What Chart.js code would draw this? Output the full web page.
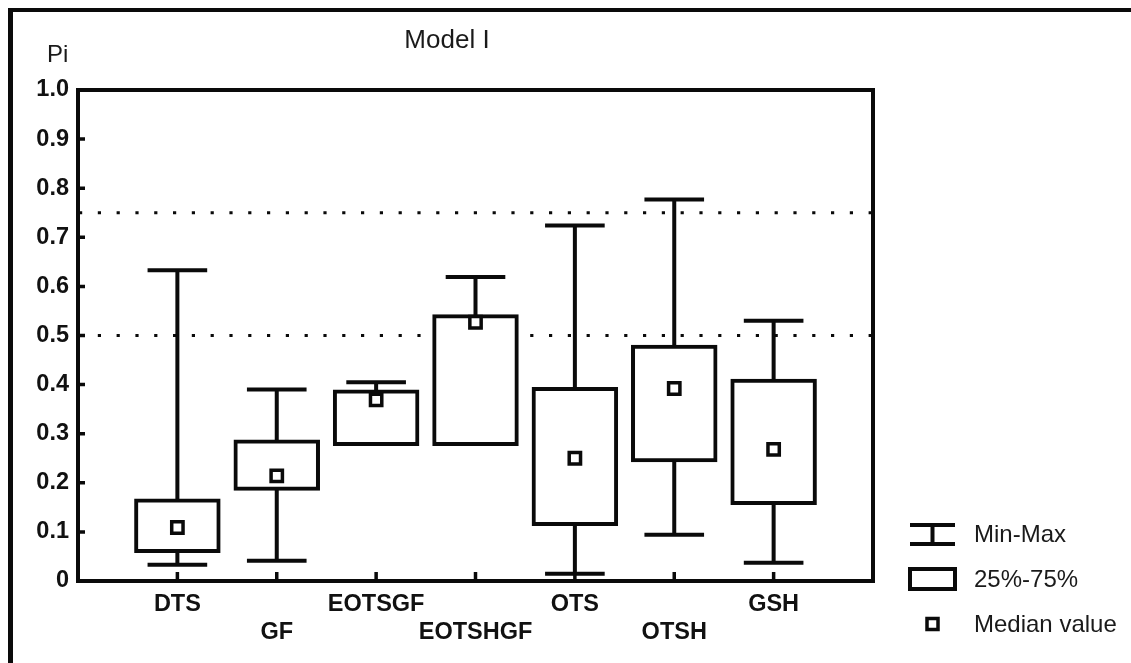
<!DOCTYPE html>
<html>
<head>
<meta charset="utf-8">
<title>Model I</title>
<script src="https://cdn.jsdelivr.net/npm/chart.js@4.4.1/dist/chart.umd.min.js"></script>
<style>
    html, body { margin: 0; padding: 0; background: #fff; }
    #wrap { width: 1131px; height: 663px; }
</style>
</head>
<body>
<div id="wrap"><canvas id="box-chart" width="1131" height="663"></canvas></div>
<script>
// categories, in axis order (placed at x = 1..7 on a 0..8 axis)
const categories = ['DTS', 'GF', 'EOTSGF', 'EOTSHGF', 'OTS', 'OTSH', 'GSH'];

// box plot statistics per category
const minValues    = [0.033, 0.041, 0.278, 0.278, 0.015, 0.094, 0.037];
const q1Values     = [0.060, 0.187, 0.278, 0.278, 0.115, 0.245, 0.158];
const medianValues = [0.109, 0.214, 0.369, 0.527, 0.250, 0.392, 0.268];
const q3Values     = [0.165, 0.285, 0.387, 0.540, 0.392, 0.478, 0.409];
const maxValues    = [0.633, 0.390, 0.405, 0.619, 0.724, 0.777, 0.530];

// dotted reference levels
const refLevels = [0.5, 0.75];

const yTickValues = [0, 0.1, 0.2, 0.3, 0.4, 0.5, 0.6, 0.7, 0.8, 0.9, 1.0];
const legendLabels = ['Min-Max', '25%-75%', 'Median value'];

const INK = '#0a0a0a';
const FONT = "'Liberation Sans', Arial, sans-serif";
const CAP_HALF = 0.3;

// whiskers and caps as one broken line
const whiskerData = [];
categories.forEach((c, i) => {
    const x = i + 1;
    whiskerData.push({ x, y: q3Values[i] }, { x, y: maxValues[i] }, { x, y: null });
    whiskerData.push({ x: x - CAP_HALF, y: maxValues[i] }, { x: x + CAP_HALF, y: maxValues[i] }, { x, y: null });
    if (minValues[i] < q1Values[i]) {
        whiskerData.push({ x, y: q1Values[i] }, { x, y: minValues[i] }, { x, y: null });
        whiskerData.push({ x: x - CAP_HALF, y: minValues[i] }, { x: x + CAP_HALF, y: minValues[i] }, { x, y: null });
    }
});

const refDatasets = refLevels.map(level => ({
    type: 'line',
    label: 'ref ' + level,
    data: [{ x: 0, y: level }, { x: 8, y: level }],
    borderColor: INK,
    borderWidth: 3.2,
    borderDash: [3.2, 15.6],
    borderDashOffset: -1,
    pointRadius: 0,
    order: 10
}));

// frame, titles, inward tick marks and legend
const decorPlugin = {
    id: 'decor',
    afterDraw(chart) {
        const ctx = chart.ctx;
        const area = chart.chartArea;
        const xs = chart.scales.x;
        const ys = chart.scales.y;
        ctx.save();

        // outer frame (top and left)
        ctx.fillStyle = INK;
        ctx.fillRect(8, 8, chart.width - 8, 4);
        ctx.fillRect(8, 8, 5, chart.height - 8);

        // plot border
        ctx.strokeStyle = INK;
        ctx.lineWidth = 4;
        ctx.strokeRect(area.left, area.top, area.right - area.left, area.bottom - area.top);

        // tick marks pointing inward
        ctx.lineWidth = 3.5;
        ctx.beginPath();
        yTickValues.slice(1, -1).forEach(v => {
            const y = ys.getPixelForValue(v);
            ctx.moveTo(area.left, y);
            ctx.lineTo(area.left + 7, y);
        });
        categories.forEach((c, i) => {
            const x = xs.getPixelForValue(i + 1);
            ctx.moveTo(x, area.bottom);
            ctx.lineTo(x, area.bottom - 9);
        });
        ctx.stroke();

        // title and axis name
        ctx.fillStyle = '#1a1a1a';
        ctx.textBaseline = 'alphabetic';
        ctx.textAlign = 'center';
        ctx.font = '26px ' + FONT;
        ctx.fillText('Model I', 447, 48);
        ctx.textAlign = 'left';
        ctx.font = '24px ' + FONT;
        ctx.fillText('Pi', 47, 62);

        // legend
        const lx = 910, lw = 45, mid = lx + lw / 2;
        ctx.strokeStyle = INK;
        ctx.lineWidth = 4;
        ctx.beginPath();
        ctx.moveTo(lx, 525); ctx.lineTo(lx + lw, 525);
        ctx.moveTo(mid, 525); ctx.lineTo(mid, 544);
        ctx.moveTo(lx, 544); ctx.lineTo(lx + lw, 544);
        ctx.stroke();
        ctx.strokeRect(lx, 569, lw, 20);
        ctx.lineWidth = 3.5;
        ctx.strokeRect(mid - 5.5, 618.5, 11, 11);

        ctx.fillStyle = '#1a1a1a';
        ctx.font = '24px ' + FONT;
        ctx.textBaseline = 'middle';
        [535, 580, 625].forEach((y, i) => ctx.fillText(legendLabels[i], 974, y));
        ctx.restore();
    }
};

new Chart(document.getElementById('box-chart'), {
    type: 'bar',
    data: {
        datasets: [
            ...refDatasets,
            {
                type: 'line',
                label: 'Min-Max',
                data: whiskerData,
                borderColor: INK,
                borderWidth: 4,
                pointRadius: 0,
                spanGaps: false,
                order: 5
            },
            {
                type: 'bar',
                label: '25%-75%',
                data: categories.map((c, i) => ({ x: i + 1, y: [q1Values[i], q3Values[i]] })),
                backgroundColor: '#ffffff',
                borderColor: INK,
                borderWidth: 4,
                borderSkipped: false,
                inflateAmount: 1.5,
                categoryPercentage: 1,
                barPercentage: 0.84,
                order: 2
            },
            {
                type: 'scatter',
                label: 'Median value',
                data: categories.map((c, i) => ({ x: i + 1, y: medianValues[i] })),
                pointStyle: 'rect',
                pointRadius: 8,
                backgroundColor: '#ffffff',
                borderColor: INK,
                borderWidth: 3.5,
                order: 1
            }
        ]
    },
    options: {
        responsive: false,
        animation: false,
        events: [],
        layout: { padding: { left: 0, top: 90, right: 258, bottom: 0 } },
        plugins: {
            legend: { display: false },
            title: { display: false },
            tooltip: { enabled: false }
        },
        scales: {
            x: {
                type: 'linear',
                min: 0,
                max: 8,
                offset: false,
                grid: { display: false, drawTicks: false },
                border: { display: false },
                afterFit: s => { s.height = 82; },
                afterBuildTicks: s => { s.ticks = [0, 1, 2, 3, 4, 5, 6, 7, 8].map(v => ({ value: v })); },
                ticks: {
                    autoSkip: false,
                    maxRotation: 0,
                    padding: 10,
                    color: '#111',
                    font: { family: FONT, size: 23.5, weight: 'bold', lineHeight: 1.17 },
                    callback: v => {
                        const name = categories[v - 1];
                        if (!name) return '';
                        return (v % 2 === 1) ? name : ['', name];
                    }
                }
            },
            y: {
                min: 0,
                max: 1,
                grid: { display: false, drawTicks: false },
                border: { display: false },
                afterFit: s => { s.width = 78; },
                afterBuildTicks: s => { s.ticks = yTickValues.map(v => ({ value: v })); },
                ticks: {
                    padding: 9,
                    color: '#111',
                    font: { family: FONT, size: 23.5, weight: 'bold' },
                    callback: v => (v === 0 ? '0' : v.toFixed(1))
                }
            }
        }
    },
    plugins: [decorPlugin]
});
</script>
</body>
</html>
